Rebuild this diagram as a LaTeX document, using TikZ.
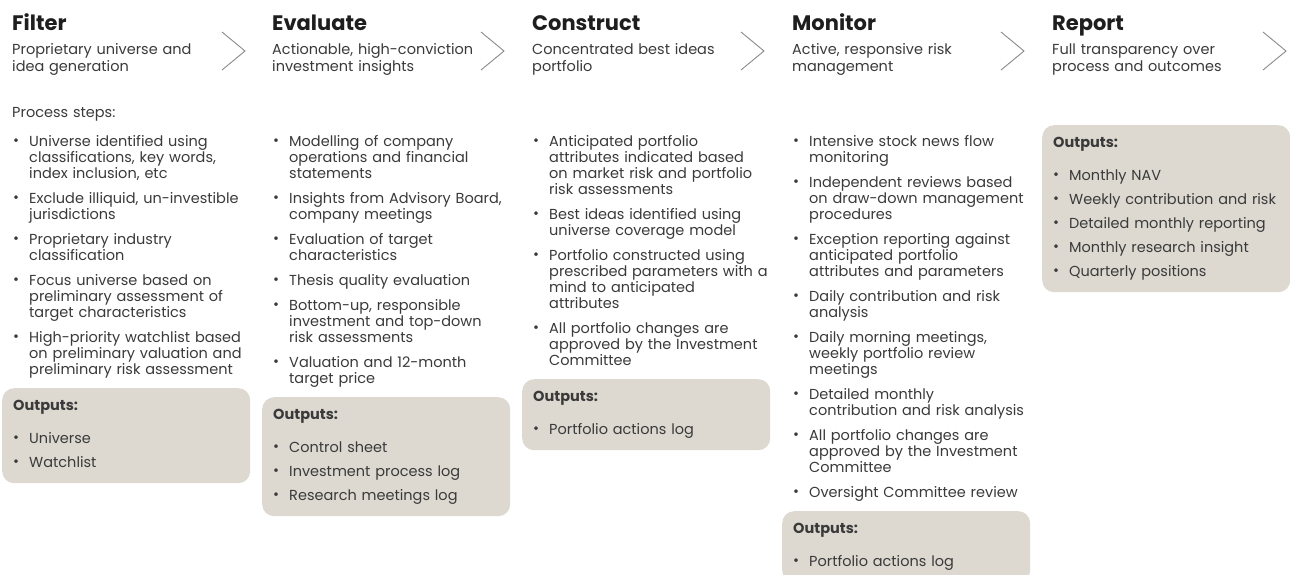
\documentclass[tikz,border=0pt]{standalone}
\usepackage{fontspec}
\setmainfont{Poppins}
\usetikzlibrary{positioning}

\definecolor{inkdark}{HTML}{1E1E1E}
\definecolor{inktext}{HTML}{3A3A3A}
\definecolor{outfill}{HTML}{DDD9D1}
\definecolor{chevgray}{HTML}{8A8A8A}

\newcommand{\bodyfont}{\fontsize{14.5}{16}\selectfont\raggedright}
\newlength{\itemgap}\setlength{\itemgap}{9pt}
\newcommand{\dotmark}{\hbox to 16pt{\raisebox{0.5pt}{\textbullet}\hfil}}
% bullet paragraph with hanging indent, gap after each item
\newcommand{\pitem}[1]{\hangindent=16pt\hangafter=1\noindent
  \dotmark{\def\\{\newline}#1}\strut\par\vspace{\itemgap}}
% one-line output entry
\newcommand{\oitem}[1]{\par\vspace{\itemgap}\noindent\dotmark\mbox{#1}\strut}
\newcommand{\outhead}{\strut\textbf{Outputs:}\par\vspace{9pt}}

\begin{document}
\begin{tikzpicture}[x=1pt, y=-1pt,
    title/.style={anchor=base west, inner sep=0, text=inkdark,
      font=\fontsize{21}{24}\selectfont\bfseries},
    subtitle/.style={anchor=base west, inner sep=0, text width=240pt, text=inktext,
      font=\fontsize{14.5}{17}\selectfont\raggedright},
    steps/.style={anchor=base west, inner sep=0, text width=245pt,
      text=inktext, font=\bodyfont},
    outbox/.style={fill=outfill, rounded corners=12pt, inner xsep=11pt,
      inner ysep=11pt, text width=226pt, text=inktext,
      font=\bodyfont\setlength{\itemgap}{8pt}},
    chev/.style={draw=chevgray, line width=0.9pt}]
  \useasboundingbox (0,0) rectangle (1290,574);
  \fill[white] (0,0) rectangle (1290,574);

  % chevrons between the stages
  \foreach \cx in {222,481,741,1001,1263}
    \draw[chev] (\cx,32) -- (\cx+23,51) -- (\cx,70);

  % Filter
  \node[title] (f-title) at (12,30) {Filter};
  \node[subtitle] (f-sub) at (12,54) {Proprietary universe and\\idea generation};
  \node[steps] (f-label) at (12,117) {Process steps:};
  \node[steps] (f-steps) at (13,146) {%
    \pitem{Universe identified using\\classifications, key words,\\index inclusion, etc}
    \pitem{Exclude illiquid, un-investible\\jurisdictions}
    \pitem{Proprietary industry\\classification}
    \pitem{Focus universe based on\\preliminary assessment of\\target characteristics}
    \pitem{High-priority watchlist based\\on preliminary valuation and\\preliminary risk assessment}};
  \node[outbox, below right=0pt and -11pt of f-steps.south west] (f-out) {%
    \outhead
    \oitem{Universe}
    \oitem{Watchlist}};

  % Evaluate
  \node[title] (e-title) at (272,30) {Evaluate};
  \node[subtitle] (e-sub) at (272,54) {Actionable, high-conviction\\investment insights};
  \node[steps] (e-steps) at (273,146) {%
    \pitem{Modelling of company\\operations and financial\\statements}
    \pitem{Insights from Advisory Board,\\company meetings}
    \pitem{Evaluation of target\\characteristics}
    \pitem{Thesis quality evaluation}
    \pitem{Bottom-up, responsible\\investment and top-down\\risk assessments}
    \pitem{Valuation and 12-month\\target price}};
  \node[outbox, below right=0pt and -11pt of e-steps.south west] (e-out) {%
    \outhead
    \oitem{Control sheet}
    \oitem{Investment process log}
    \oitem{Research meetings log}};

  % Construct
  \node[title] (c-title) at (532,30) {Construct};
  \node[subtitle] (c-sub) at (532,54) {Concentrated best ideas\\portfolio};
  \node[steps] (c-steps) at (533,146) {%
    \pitem{Anticipated portfolio\\attributes indicated based\\on market risk and portfolio\\risk assessments}
    \pitem{Best ideas identified using\\universe coverage model}
    \pitem{Portfolio constructed using\\prescribed parameters with a\\mind to anticipated\\attributes}
    \pitem{All portfolio changes are\\approved by the Investment\\Committee}};
  \node[outbox, below right=0pt and -11pt of c-steps.south west] (c-out) {%
    \outhead
    \oitem{Portfolio actions log}};

  % Monitor
  \node[title] (m-title) at (792,30) {Monitor};
  \node[subtitle] (m-sub) at (792,54) {Active, responsive risk\\management};
  \node[steps] (m-steps) at (793,146) {%
    \pitem{Intensive stock news flow\\monitoring}
    \pitem{Independent reviews based\\on draw-down management\\procedures}
    \pitem{Exception reporting against\\anticipated portfolio\\attributes and parameters}
    \pitem{Daily contribution and risk\\analysis}
    \pitem{Daily morning meetings,\\weekly portfolio review\\meetings}
    \pitem{Detailed monthly\\contribution and risk analysis}
    \pitem{All portfolio changes are\\approved by the Investment\\Committee}
    \pitem{Oversight Committee review}};
  \node[outbox, below right=0pt and -11pt of m-steps.south west] (m-out) {%
    \outhead
    \oitem{Portfolio actions log}};

  % Report
  \node[title] (r-title) at (1052,30) {Report};
  \node[subtitle] (r-sub) at (1052,54) {Full transparency over\\process and outcomes};
  \node[outbox, anchor=north west] (r-out) at (1042,125) {%
    \outhead
    \oitem{Monthly NAV}
    \oitem{Weekly contribution and risk}
    \oitem{Detailed monthly reporting}
    \oitem{Monthly research insight}
    \oitem{Quarterly positions}};
\end{tikzpicture}
\end{document}
